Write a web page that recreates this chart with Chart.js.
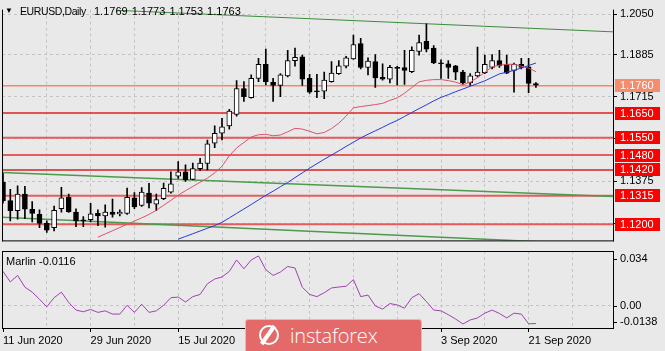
<!DOCTYPE html>
<html><head><meta charset="utf-8">
<script src="https://cdn.jsdelivr.net/npm/chart.js@4.4.1/dist/chart.umd.min.js"></script>
<style>
html,body{margin:0;padding:0;background:#e9e9e9;}
#wrap{position:relative;width:665px;height:351px;overflow:hidden;background:#e9e9e9;font-family:'Liberation Sans',Arial,sans-serif;font-size:11px;color:#000;}
#c1{position:absolute;left:0;top:0;}
#c2{position:absolute;left:0;top:250px;}
.t{position:absolute;white-space:pre;line-height:13px;}
#wm{position:absolute;left:245px;top:319px;width:177px;height:36px;background:#e46a6a;border:1px solid #f2b3b3;border-radius:3px;box-sizing:border-box;}
#wm span{position:absolute;left:44px;top:2px;color:#fff;font-family:'Open Sans','Liberation Sans',sans-serif;font-size:20px;font-weight:300;line-height:28px;letter-spacing:-0.2px;}
#logo{position:absolute;left:13px;top:5px;width:20px;height:20px;border:2px solid #fff;border-radius:50%;box-sizing:border-box;}
#logo:after{content:'';position:absolute;left:5px;top:-3px;width:4px;height:22px;background:#fff;transform:rotate(35deg);}
</style></head>
<body><div id="wrap">
<canvas id="c1" width="665" height="250"></canvas>
<canvas id="c2" width="665" height="101"></canvas>
<div class="t" style="left:5px;top:4px;font-size:8px;">▼</div>
<div class="t" style="left:20px;top:5px;font-size:10.5px;letter-spacing:-0.4px;">EURUSD,Daily</div>
<div class="t" style="left:94px;top:5px;word-spacing:1px;">1.1769 1.1773 1.1753 1.1763</div>
<div class="t" style="left:6px;top:255px;">Marlin -0.0116</div>
<div id="wm"><div id="logo"></div><span>instaforex</span></div>
</div>
<script>
// ---- data ----
const open = [
1.1371,1.1296,1.1255,1.1322,1.1261,1.1240,1.1204,1.1186,1.1263,1.1309,
1.1249,1.1218,1.1219,1.1244,1.1234,1.1249,1.1242,1.1244,1.1307,1.1276,
1.1326,1.1281,1.1304,1.1330,1.1395,1.1412,1.1382,1.1425,1.1446,1.1528,
1.1568,1.1598,1.1644,1.1749,1.1712,1.1790,1.1847,1.1774,1.1762,1.1800,
1.1862,1.1877,1.1790,1.1740,1.1738,1.1777,1.1809,1.1839,1.1869,1.1931,
1.1834,1.1858,1.1794,1.1787,1.1835,1.1834,1.1817,1.1899,1.1940,1.1912,
1.1852,1.1849,1.1841,1.1815,1.1772,1.1800,1.1813,1.1834,1.1862,1.1847,
1.1822,1.1847,1.1837,1.1769];
const high = [
1.1405,1.1341,1.1356,1.1354,1.1292,1.1259,1.1214,1.1274,1.1350,1.1322,
1.1263,1.1231,1.1285,1.1259,1.1279,1.1302,1.1259,1.1347,1.1328,1.1349,
1.1366,1.1322,1.1367,1.1412,1.1454,1.1440,1.1448,1.1467,1.1541,1.1598,
1.1628,1.1665,1.1781,1.1777,1.1804,1.1871,1.1908,1.1790,1.1809,1.1903,
1.1912,1.1884,1.1806,1.1806,1.1815,1.1858,1.1862,1.1879,1.1965,1.1952,
1.1873,1.1886,1.1849,1.1843,1.1839,1.1903,1.1918,1.1965,1.2010,1.1923,
1.1865,1.1862,1.1843,1.1822,1.1809,1.1916,1.1884,1.1886,1.1903,1.1884,
1.1852,1.1871,1.1871,1.1773];
const low = [
1.1285,1.1214,1.1221,1.1223,1.1210,1.1186,1.1167,1.1173,1.1249,1.1248,
1.1190,1.1191,1.1210,1.1195,1.1188,1.1229,1.1234,1.1240,1.1263,1.1272,
1.1266,1.1255,1.1300,1.1326,1.1386,1.1373,1.1379,1.1418,1.1420,1.1510,
1.1541,1.1585,1.1637,1.1697,1.1710,1.1777,1.1764,1.1697,1.1716,1.1796,
1.1839,1.1761,1.1729,1.1712,1.1708,1.1775,1.1806,1.1832,1.1867,1.1828,
1.1804,1.1753,1.1783,1.1772,1.1764,1.1766,1.1813,1.1884,1.1897,1.1849,
1.1790,1.1790,1.1785,1.1766,1.1761,1.1796,1.1809,1.1828,1.1834,1.1809,
1.1734,1.1828,1.1732,1.1753];
const close = [
1.1296,1.1255,1.1322,1.1261,1.1244,1.1204,1.1176,1.1257,1.1307,1.1251,
1.1214,1.1214,1.1242,1.1234,1.1249,1.1240,1.1249,1.1309,1.1270,1.1330,
1.1285,1.1300,1.1345,1.1364,1.1412,1.1379,1.1425,1.1448,1.1525,1.1568,
1.1594,1.1658,1.1749,1.1716,1.1790,1.1847,1.1777,1.1762,1.1804,1.1862,
1.1875,1.1787,1.1734,1.1736,1.1783,1.1811,1.1841,1.1873,1.1927,1.1834,
1.1860,1.1792,1.1787,1.1835,1.1830,1.1822,1.1903,1.1935,1.1908,1.1852,
1.1849,1.1834,1.1815,1.1772,1.1800,1.1815,1.1847,1.1862,1.1841,1.1811,
1.1847,1.1834,1.1770,1.1763];
const maRed = [
null,null,null,null,null,null,null,null,null,null,null,null,null,
1.1148,1.1161,1.1174,1.1187,1.1200,1.1213,1.1226,1.1240,1.1257,1.1277,
1.1297,1.1318,1.1336,1.1353,1.1370,1.1387,1.1408,1.1435,1.1477,1.1509,
1.1531,1.1553,1.1562,1.1564,1.1558,1.1561,1.1574,1.1588,1.1585,1.1576,
1.1566,1.1571,1.1587,1.1609,1.1637,1.1671,1.1676,1.1680,1.1684,1.1689,
1.1701,1.1711,1.1730,1.1753,1.1776,1.1782,1.1785,1.1785,1.1781,1.1775,
1.1764,1.1775,1.1793,1.1814,1.1837,1.1843,1.1847,1.1847,1.1839,1.1831,1.1817];
const maBlue = [
null,null,null,null,null,null,null,null,null,null,null,null,
null,null,null,null,null,null,null,null,null,null,null,null,
1.1140,1.1151,1.1162,1.1173,1.1184,1.1195,1.1208,1.1226,1.1244,1.1262,
1.1280,1.1299,1.1317,1.1334,1.1352,1.1369,1.1389,1.1408,1.1427,1.1445,
1.1463,1.1480,1.1497,1.1515,1.1532,1.1549,1.1564,1.1578,1.1592,1.1607,
1.1620,1.1636,1.1652,1.1668,1.1683,1.1699,1.1713,1.1724,1.1736,1.1747,
1.1758,1.1769,1.1780,1.1794,1.1808,1.1815,1.1822,1.1832,1.1842,1.1852];
const marlin = [
0.0221,0.0153,0.0195,0.0119,0.0087,0.0041,-0.0008,0.0051,0.0087,0.0020,
-0.0029,-0.0040,-0.0025,-0.0044,-0.0034,-0.0055,-0.0055,0.0002,-0.0044,0.0009,
-0.0044,-0.0034,0.0002,0.0051,0.0055,0.0023,0.0058,0.0072,0.0141,0.0172,
0.0185,0.0221,0.0295,0.0238,0.0295,0.0321,0.0232,0.0195,0.0217,0.0253,
0.0243,0.0119,0.0072,0.0058,0.0083,0.0114,0.0120,0.0125,0.0168,0.0058,
0.0068,-0.0002,-0.0023,0.0013,0.0004,-0.0017,0.0051,0.0077,0.0026,-0.0029,
-0.0034,-0.0059,-0.0087,-0.0119,-0.0093,-0.0080,-0.0049,-0.0029,-0.0051,-0.0080,
-0.0049,-0.0055,-0.0118,-0.0116];
const levels = [1.1760, 1.1650, 1.1550, 1.1480, 1.1420, 1.1315, 1.1200];
const trendTop = [{x:15.6, y:1.2065}, {x:83.6, y:1.1978}];
const trendMid = [{x:-0.2, y:1.1410}, {x:83.6, y:1.1312}];
const trendLow = [{x:-0.2, y:1.1229}, {x:83.6, y:1.1116}];
const priceTicks = [1.2050, 1.1885, 1.1715, 1.1545, 1.1375, 1.1205];
const marlinTicks = [0.034, 0.00, -0.0138];
const marlinTickLabels = ['0.034', '0.00', '-0.0138'];
const dateLabels = ['11 Jun 2020','29 Jun 2020','15 Jul 2020','31 Jul 2020','18 Aug 2020','3 Sep 2020','21 Sep 2020'];
const labelBars = [0,12,24,36,48,60,72];
const gridBars = [0,6,12,18,24,30,36,42,48,54,60,66,72,78];

// ---- styles ----
const levelLineColors = ['#f08a6a','#dc2222','#e65c5c','#e65c5c','#d42222','#e65c5c','#e65c5c'];
const levelLineWidths = [1.5,1.5,2,2,1.5,2,2];
const levelBoxColors = ['#f58c6c','#ff0000','#ff0000','#ff0000','#ff0000','#ff0000','#ff0000'];
const GRID = '#c4c4c4';
const X_MIN = -0.137, X_MAX = 83.56;

Chart.defaults.font.family = "'Liberation Sans', Arial, sans-serif";
Chart.defaults.font.size = 11;
Chart.defaults.color = '#000';

const frame = {
  id: 'frame',
  afterDraw(chart, args, opts) {
    const {ctx, chartArea: a} = chart;
    ctx.save();
    ctx.strokeStyle = '#000';
    ctx.lineWidth = 1;
    ctx.beginPath();
    ctx.moveTo(a.left + 0.5, a.top); ctx.lineTo(a.left + 0.5, a.bottom + 1);
    ctx.moveTo(a.right + 0.5, a.top); ctx.lineTo(a.right + 0.5, a.bottom + 1);
    ctx.moveTo(a.left, a.bottom + 0.5); ctx.lineTo(a.right + 1, a.bottom + 0.5);
    if (opts.top) { ctx.moveTo(a.left, a.top + 0.5); ctx.lineTo(a.right + 1, a.top + 0.5); }
    ctx.stroke();
    ctx.restore();
  }
};

const levelLabels = {
  id: 'levelLabels',
  afterDraw(chart) {
    const {ctx, chartArea: a} = chart;
    const yS = chart.scales.y;
    const x0 = a.right + 2, w = 45, h = 13;
    ctx.save();
    ctx.font = "11px 'Liberation Sans', Arial, sans-serif";
    ctx.textBaseline = 'middle';
    const yb = Math.round(yS.getPixelForValue(close[close.length - 1]) - h / 2);
    ctx.fillStyle = '#000';
    ctx.fillRect(x0, yb, w, h);
    levels.forEach((L, k) => {
      const y = yS.getPixelForValue(L);
      const yt = Math.round(y - h / 2);
      ctx.fillStyle = levelBoxColors[k];
      ctx.fillRect(x0, yt, w, h);
      ctx.fillStyle = '#fff';
      ctx.fillText(L.toFixed(4), x0 + 5, yt + h / 2 + 0.5);
    });
    ctx.restore();
  }
};

const marlinAxis = {
  id: 'marlinAxis',
  afterDraw(chart) {
    const {ctx, chartArea: a} = chart;
    const yS = chart.scales.y;
    ctx.save();
    ctx.font = "11px 'Liberation Sans', Arial, sans-serif";
    ctx.textBaseline = 'middle';
    ctx.fillStyle = '#000';
    ctx.strokeStyle = '#000';
    const maxT = Math.max(...marlinTicks), minT = Math.min(...marlinTicks);
    marlinTicks.forEach((v, k) => {
      let y = yS.getPixelForValue(v);
      if (v === maxT) y += 6; else if (v === minT) y -= 4.5;
      ctx.beginPath();
      ctx.moveTo(a.right, Math.round(y) + 0.5); ctx.lineTo(a.right + 4, Math.round(y) + 0.5);
      ctx.stroke();
      ctx.fillText(marlinTickLabels[k], a.right + 7, y);
    });
    ctx.restore();
  }
};

const idx = close.map((c, i) => i);
const wickData = idx.map(i => ({x: i, y: [low[i], high[i]]}));
const bodyData = idx.map(i => ({x: i, y: [open[i], close[i]]}));
const bodyColors = idx.map(i => close[i] >= open[i] ? '#ffffff' : '#000000');

const lineDs = (data, color, width, order) => ({
  type: 'line', data, borderColor: color, borderWidth: width, pointRadius: 0,
  pointHoverRadius: 0, spanGaps: false, tension: 0, order, fill: false
});

const levelDatasets = levels.map((L, k) =>
  lineDs([{x: X_MIN - 1, y: L}, {x: X_MAX + 1, y: L}], levelLineColors[k], levelLineWidths[k], 10));

new Chart(document.getElementById('c1'), {
  data: {
    datasets: [
      lineDs(maRed.map((v, i) => ({x: i, y: v})), '#e0506c', 1, 0),
      lineDs(maBlue.map((v, i) => ({x: i, y: v})), '#2a3ad8', 1, 0),
      {type: 'bar', data: bodyData, backgroundColor: bodyColors, borderColor: '#000', borderWidth: 1,
       borderSkipped: false, grouped: false, barPercentage: 1, categoryPercentage: 1, maxBarThickness: 5,
       minBarLength: 1, order: 2},
      {type: 'bar', data: wickData, backgroundColor: '#000', borderWidth: 0, grouped: false,
       barPercentage: 1, categoryPercentage: 1, maxBarThickness: 1, order: 3},
      lineDs(trendTop, '#3c8c3c', 1, 9),
      lineDs(trendMid, '#4c9a4c', 1.5, 9),
      lineDs(trendLow, '#4c9a4c', 1.5, 9),
      ...levelDatasets
    ]
  },
  options: {
    responsive: false, animation: false, devicePixelRatio: 1, events: [],
    layout: {padding: {left: 2, top: 1, right: 0, bottom: 0}},
    plugins: {legend: {display: false}, tooltip: {enabled: false}, frame: {top: false}},
    scales: {
      x: {type: 'linear', min: X_MIN, max: X_MAX, offset: false,
          afterBuildTicks: s => { s.ticks = gridBars.map(v => ({value: v})); },
          afterFit: s => { s.height = 0; },
          ticks: {display: false},
          grid: {offset: false, color: c => (c.tick && c.tick.value === 0) ? 'rgba(0,0,0,0)' : GRID, drawTicks: false},
          border: {display: false, dash: [3, 3]}},
      y: {type: 'linear', position: 'right', min: 1.1135, max: 1.2068,
          afterBuildTicks: s => { s.ticks = priceTicks.map(v => ({value: v})); },
          afterFit: s => { s.width = 52; },
          ticks: {callback: v => Number(v).toFixed(4), padding: 3, color: '#000'},
          grid: {color: GRID, tickLength: 4, tickColor: '#000', tickBorderDash: []},
          border: {display: false, dash: [3, 3]}}
    }
  },
  plugins: [frame, levelLabels]
});

new Chart(document.getElementById('c2'), {
  data: {
    datasets: [
      lineDs(marlin.map((v, i) => ({x: i, y: v})), '#a040b0', 1, 0)
    ]
  },
  options: {
    responsive: false, animation: false, devicePixelRatio: 1, events: [],
    layout: {padding: {left: 2, top: 1, right: 0, bottom: 0}},
    plugins: {legend: {display: false}, tooltip: {enabled: false}, frame: {top: true}},
    scales: {
      x: {type: 'linear', min: X_MIN, max: X_MAX, offset: false,
          afterBuildTicks: s => { s.ticks = gridBars.map(v => ({value: v})); },
          afterFit: s => { s.height = 23; },
          ticks: {autoSkip: false, maxRotation: 0, minRotation: 0, align: 'start', padding: 2, color: '#000',
                  callback: v => { const k = labelBars.indexOf(v); return k < 0 ? '' : dateLabels[k]; }},
          grid: {offset: false, color: c => (c.tick && c.tick.value === 0) ? 'rgba(0,0,0,0)' : GRID, tickLength: 4,
                 tickColor: c => (c.tick && labelBars.includes(c.tick.value)) ? '#000' : 'rgba(0,0,0,0)',
                 tickBorderDash: []},
          border: {display: false, dash: [3, 3]}},
      y: {type: 'linear', position: 'right', min: -0.0145, max: 0.0353,
          afterBuildTicks: s => { s.ticks = [{value: 0}]; },
          afterFit: s => { s.width = 52; },
          ticks: {display: false},
          grid: {color: GRID, drawTicks: false},
          border: {display: false, dash: [3, 3]}}
    }
  },
  plugins: [frame, marlinAxis]
});
</script>
</body></html>
